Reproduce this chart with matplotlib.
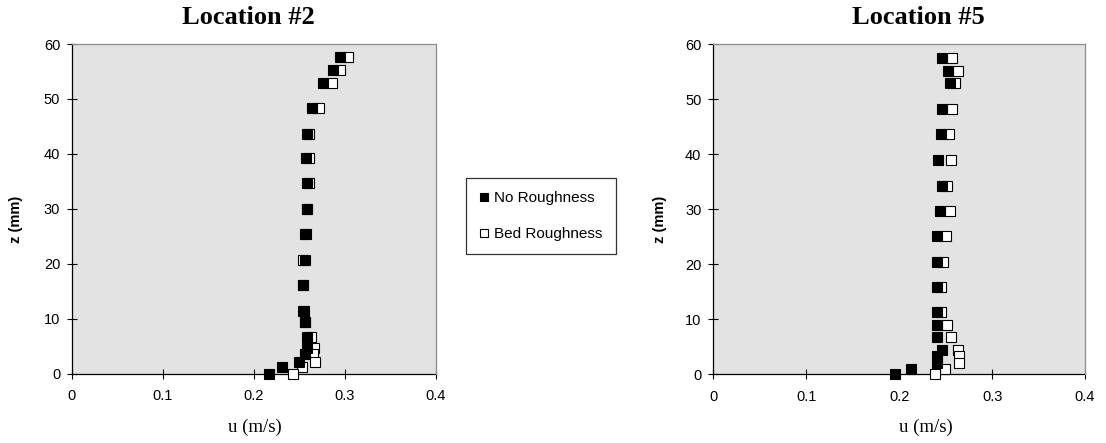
"""Velocity profiles u(z) at two locations, with and without bed roughness."""

import matplotlib.pyplot as plt
from matplotlib.lines import Line2D

OUT_PATH = "out.png"

X_TICKS = [0, 0.1, 0.2, 0.3, 0.4]
X_TICK_LABELS = ["0", "0.1", "0.2", "0.3", "0.4"]
Y_TICKS = [0, 10, 20, 30, 40, 50, 60]

# Location #2
Z_LOC2 = [57.6, 55.2, 52.9, 48.3, 43.6, 39.3, 34.6, 30.0, 25.4, 20.7,
          16.1, 11.4, 9.3, 6.7, 4.6, 3.5, 2.15, 1.1, 0.0]
U_LOC2_NO = [0.2945, 0.287, 0.276, 0.2634, 0.258, 0.257, 0.258, 0.2586, 0.2575, 0.2557,
             0.254, 0.255, 0.2555, 0.258, 0.258, 0.256, 0.2498, 0.2304, 0.2165]
U_LOC2_BED = [0.303, 0.294, 0.2855, 0.2716, 0.260, 0.260, 0.260, 0.258, 0.256, 0.2533,
              0.2533, 0.2533, 0.2555, 0.263, 0.266, 0.265, 0.267, 0.2527, 0.243]

# Location #5
Z_LOC5 = [57.45, 55.1, 52.9, 48.2, 43.6, 38.9, 34.3, 29.7, 25.2, 20.4,
          15.8, 11.2, 9.0, 6.7, 4.4, 3.3, 2.05, 0.85, 0.0]
U_LOC5_NO = [0.246, 0.2527, 0.2545, 0.2456, 0.2452, 0.2416, 0.246, 0.2438, 0.2402, 0.2402,
             0.2402, 0.2402, 0.2402, 0.2402, 0.2456, 0.2402, 0.2402, 0.2126, 0.1954]
U_LOC5_BED = [0.257, 0.2637, 0.2604, 0.257, 0.254, 0.2556, 0.2518, 0.255, 0.250, 0.2468,
              0.245, 0.245, 0.2512, 0.2556, 0.2628, 0.2642, 0.2642, 0.249, 0.2384]

SERIES_LABELS = ["No Roughness", "Bed Roughness"]

W, H = 1106, 443
PLOT_BG = "#e3e3e3"
SANS = ["Liberation Sans", "Arial", "DejaVu Sans"]
SERIF = ["Liberation Serif", "Times New Roman", "DejaVu Serif"]


def _px(x0, y0, x1, y1):
    """Axes rect in figure fractions from pixel box (top-left origin)."""
    return [x0 / W, 1 - y1 / H, (x1 - x0) / W, (y1 - y0) / H]


def _plot_one(ax, z, u_no, u_bed):
    ax.set_facecolor(PLOT_BG)
    common = dict(ls="none", marker="s", ms=7.6, mec="black", mew=0.8, clip_on=False)
    ax.plot(u_bed, z, mfc="white", zorder=3, **common)
    ax.plot(u_no, z, mfc="black", zorder=4, **common)

    ax.set_xlim(0, 0.4)
    ax.set_ylim(0, 60)
    ax.set_xticks(X_TICKS, X_TICK_LABELS)
    ax.set_yticks(Y_TICKS)

    for side in ("left", "bottom"):
        ax.spines[side].set_color("black")
        ax.spines[side].set_linewidth(0.9)
        ax.spines[side].set_zorder(2)
    for side in ("top", "right"):
        ax.spines[side].set_color("#8c8c8c")
        ax.spines[side].set_linewidth(0.9)

    ax.tick_params(direction="inout", length=7, width=0.8, color="black",
                   labelsize=10.5, top=False, right=False)
    ax.tick_params(axis="x", pad=8)
    ax.tick_params(axis="y", pad=5)
    for lab in ax.get_xticklabels() + ax.get_yticklabels():
        lab.set_fontfamily(SANS)


def main():
    fig = plt.figure(figsize=(W / 100, H / 100), dpi=100)
    fig.patch.set_facecolor("white")

    ax_l = fig.add_axes(_px(72, 44, 436, 373.5))
    ax_r = fig.add_axes(_px(713.3, 44.3, 1085, 374))

    _plot_one(ax_l, Z_LOC2, U_LOC2_NO, U_LOC2_BED)
    _plot_one(ax_r, Z_LOC5, U_LOC5_NO, U_LOC5_BED)

    title_kw = dict(fontsize=19, fontweight="bold", family=SERIF, ha="center", va="center")
    fig.text(248 / W, 1 - 17 / H, "Location #2", **title_kw)
    fig.text(918 / W, 1 - 17 / H, "Location #5", **title_kw)

    xl_kw = dict(fontsize=13.5, family=SERIF, ha="center", va="center")
    fig.text(255 / W, 1 - 427 / H, "u (m/s)", **xl_kw)
    fig.text(926 / W, 1 - 427 / H, "u (m/s)", **xl_kw)

    yl_kw = dict(fontsize=10.5, fontweight="bold", family=SANS, rotation=90,
                 ha="center", va="center")
    fig.text(16 / W, 1 - 219 / H, "z (mm)", **yl_kw)
    fig.text(660 / W, 1 - 219 / H, "z (mm)", **yl_kw)

    handles = [
        Line2D([], [], ls="none", marker="s", ms=6, mfc="black", mec="black", mew=0.8),
        Line2D([], [], ls="none", marker="s", ms=6, mfc="white", mec="black", mew=0.8),
    ]
    leg = fig.legend(handles, SERIES_LABELS, loc="upper left",
                     bbox_to_anchor=(466 / W, 1 - 178 / H),
                     frameon=True, fancybox=False, edgecolor="black",
                     prop={"family": SANS, "size": 11},
                     handlelength=0.6, handletextpad=0.4,
                     labelspacing=1.45, borderpad=0.85, borderaxespad=0)
    leg.get_frame().set_linewidth(0.9)

    fig.savefig(OUT_PATH, dpi=100)
    plt.close(fig)


if __name__ == "__main__":
    main()
